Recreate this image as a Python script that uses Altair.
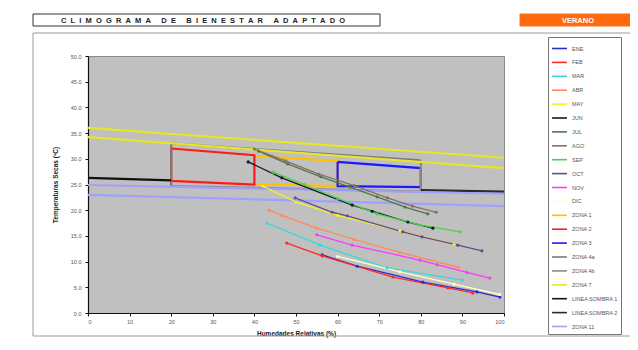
import altair as alt
import pandas as pd

# ---------------- data ----------------
MESES = ["ENE", "FEB", "MAR", "ABR", "MAY", "JUN", "JUL", "AGO", "SEP", "OCT", "NOV", "DIC"]
MES_COLORES = ["#2a2ad0", "#ff2828", "#38d8d8", "#ff8a5a", "#f2f22a", "#15152e",
               "#4a7a4a", "#8e6e62", "#44d444", "#6a4a8a", "#ff38ff", "#ffffc8"]

ENE_H = [56.3, 64.7, 80.5, 93.5, 99.0]
ENE_T = [11.3, 9.1, 6.0, 4.1, 3.1]
FEB_H = [47.8, 56.3, 73.3, 86.5, 92.5]
FEB_T = [13.6, 11.1, 7.0, 4.9, 3.9]
MAR_H = [43.0, 55.8, 71.9, 90.0]
MAR_T = [17.5, 13.2, 8.8, 6.4]
ABR_H = [43.5, 46.6, 55.0, 64.0, 75.0, 89.0]
ABR_T = [20.0, 19.0, 16.5, 14.3, 11.8, 8.9]
MAY_H = [42.0, 50.0, 60.0, 75.0, 88.0]
MAY_T = [24.7, 21.6, 19.0, 16.0, 13.3]
JUN_H = [38.5, 46.6, 63.5, 68.3, 76.9, 82.9]
JUN_T = [29.4, 26.3, 21.0, 19.8, 17.7, 16.5]
JUL_H = [41.0, 48.0, 56.0, 63.0, 69.5, 76.2, 81.7]
JUL_T = [31.5, 29.0, 26.5, 24.5, 22.6, 20.6, 19.3]
AGO_H = [40.0, 47.5, 55.5, 64.0, 72.0, 78.0, 83.7]
AGO_T = [31.9, 29.6, 27.0, 24.8, 22.4, 20.8, 19.6]
SEP_H = [44.5, 52.0, 60.0, 69.5, 80.0, 89.5]
SEP_T = [27.4, 25.0, 22.3, 19.3, 17.1, 15.8]
OCT_H = [49.8, 58.7, 62.3, 75.7, 80.3, 88.9, 94.7]
OCT_T = [22.4, 19.6, 18.9, 15.8, 14.8, 13.2, 12.1]
NOV_H = [55.0, 63.5, 79.8, 83.9, 91.1, 96.6]
NOV_T = [15.2, 13.2, 10.3, 9.4, 7.9, 6.8]
DIC_H = [60.0, 75.0, 88.0, 99.0]
DIC_T = [11.0, 8.0, 5.6, 3.6]

ZONAS = ["ZONA 1", "ZONA 2", "ZONA 3", "ZONA 4a", "ZONA 4b", "ZONA 7",
         "LINEA SOMBRA 1", "LINEA SOMBRA 2", "ZONA 11"]
ZONA_COLORES = ["#ffc000", "#ff1a1a", "#1a1aff", "#7a7a7a", "#8a8a8a", "#e6e62a",
                "#111111", "#2a2a2a", "#a0a0ff"]
ZONA_GROSOR = [2.2, 2.2, 2.2, 1.0, 1.0, 1.2, 1.6, 1.6, 1.2]

# vertices (humedad, temperatura) of each zone, one list per drawn part
ZONA1_H = [40, 60, 60, 40, 40]
ZONA1_T = [30.5, 29.6, 24.7, 25.1, 30.5]
ZONA2_H = [20, 40, 40, 20, 20]
ZONA2_T = [32.0, 30.7, 25.0, 25.7, 32.0]
ZONA3_H = [60, 80, 80, 60, 60]
ZONA3_T = [29.4, 28.2, 24.5, 24.7, 29.4]
ZONA4A_H = [20, 20, 80]
ZONA4A_T = [24.7, 33.0, 29.7]
ZONA4B_H = [20, 80, 80]
ZONA4B_T = [24.7, 23.6, 29.7]
ZONA7_SUP_H = [0, 100]
ZONA7_SUP_T = [36.0, 30.2]
ZONA7_INF_H = [0, 100]
ZONA7_INF_T = [34.2, 28.2]
SOMBRA1_H = [0, 20]
SOMBRA1_T = [26.3, 25.8]
SOMBRA2_H = [80, 100]
SOMBRA2_T = [23.9, 23.6]
ZONA11_SUP_H = [0, 100]
ZONA11_SUP_T = [24.9, 23.2]
ZONA11_INF_H = [0, 100]
ZONA11_INF_T = [23.0, 20.8]

X_TICKS = list(range(0, 101, 10))
Y_TICKS = [0, 5, 10, 15, 20, 25, 30, 35, 40, 45, 50]

TITULO = "CLIMOGRAMA DE BIENESTAR ADAPTADO"
ESTACION = "VERANO"

# ---------------- tables ----------------
mes_series = {
    "ENE": (ENE_H, ENE_T), "FEB": (FEB_H, FEB_T), "MAR": (MAR_H, MAR_T),
    "ABR": (ABR_H, ABR_T), "MAY": (MAY_H, MAY_T), "JUN": (JUN_H, JUN_T),
    "JUL": (JUL_H, JUL_T), "AGO": (AGO_H, AGO_T), "SEP": (SEP_H, SEP_T),
    "OCT": (OCT_H, OCT_T), "NOV": (NOV_H, NOV_T), "DIC": (DIC_H, DIC_T),
}
rows = []
for m in MESES:
    hs, ts = mes_series[m]
    for i, (h, t) in enumerate(zip(hs, ts)):
        rows.append({"serie": m, "h": h, "t": t, "idx": i})
df_mes = pd.DataFrame(rows)

zona_parts = [
    ("ZONA 1", "a", ZONA1_H, ZONA1_T),
    ("ZONA 2", "a", ZONA2_H, ZONA2_T),
    ("ZONA 3", "a", ZONA3_H, ZONA3_T),
    ("ZONA 4a", "a", ZONA4A_H, ZONA4A_T),
    ("ZONA 4b", "a", ZONA4B_H, ZONA4B_T),
    ("ZONA 7", "sup", ZONA7_SUP_H, ZONA7_SUP_T),
    ("ZONA 7", "inf", ZONA7_INF_H, ZONA7_INF_T),
    ("LINEA SOMBRA 1", "a", SOMBRA1_H, SOMBRA1_T),
    ("LINEA SOMBRA 2", "a", SOMBRA2_H, SOMBRA2_T),
    ("ZONA 11", "sup", ZONA11_SUP_H, ZONA11_SUP_T),
    ("ZONA 11", "inf", ZONA11_INF_H, ZONA11_INF_T),
]
rows = []
for name, part, hs, ts in zona_parts:
    for i, (h, t) in enumerate(zip(hs, ts)):
        rows.append({"serie": name, "parte": name + part, "h": h, "t": t, "idx": i})
df_zona = pd.DataFrame(rows)

DOMAIN = MESES + ZONAS
RANGE = MES_COLORES + ZONA_COLORES

# spaced-out heading text (letter spacing emulated with no-break spaces)
NB = "\u00a0"
titulo_esp = (NB * 5).join((NB * 2).join(list(w)) for w in TITULO.split(" "))

# ---------------- encodings ----------------
x_enc = alt.X("h:Q", scale=alt.Scale(domain=[0, 100], nice=False),
              axis=alt.Axis(values=X_TICKS, title="Humedades Relativas (%)", format="d"))
y_enc = alt.Y("t:Q", scale=alt.Scale(domain=[0, 50], nice=False),
              axis=alt.Axis(values=Y_TICKS, title="Temperaturas Secas (ºC)", format=".1f"))

legend = alt.Legend(title=None, orient="none", legendX=460, legendY=-19,
                    symbolType="stroke", symbolSize=220, symbolStrokeWidth=1.6,
                    labelFontSize=5.5, labelColor="#555", labelFont="Liberation Sans",
                    strokeColor="#777", fillColor="white", padding=3,
                    rowPadding=1.9, symbolLimit=40, labelLimit=70, labelOffset=4)
color_enc = alt.Color("serie:N", scale=alt.Scale(domain=DOMAIN, range=RANGE), legend=legend)
color_nl = alt.Color("serie:N", scale=alt.Scale(domain=DOMAIN, range=RANGE))

zone_lines = alt.Chart(df_zona).mark_line(clip=True).encode(
    x=x_enc, y=y_enc, color=color_enc, detail="parte:N", order="idx:Q",
    strokeWidth=alt.StrokeWidth("serie:N", scale=alt.Scale(domain=ZONAS, range=ZONA_GROSOR), legend=None),
)
mes_lines = alt.Chart(df_mes).mark_line(strokeWidth=1.3).encode(
    x=x_enc, y=y_enc, color=color_nl, order="idx:Q",
)
mes_points = alt.Chart(df_mes).mark_point(filled=True, size=10, opacity=1, strokeWidth=0).encode(
    x=x_enc, y=y_enc, color=color_nl,
)

one = pd.DataFrame({"k": [0]})
frame = alt.Chart(one).mark_rect(fillOpacity=0, stroke="#9a9a9a", strokeWidth=1).encode(
    x=alt.value(-55), x2=alt.value(560), y=alt.value(-23), y2=alt.value(280))
head_box = alt.Chart(one).mark_rect(fill="white", stroke="#333", strokeWidth=1).encode(
    x=alt.value(-55), x2=alt.value(292), y=alt.value(-42), y2=alt.value(-30))
head_txt = alt.Chart(one).mark_text(
    text=titulo_esp,
    font="Liberation Sans", fontSize=7.5, fontWeight="bold", color="#222",
    align="center", baseline="middle").encode(x=alt.value(115), y=alt.value(-35.5))
ver_box = alt.Chart(one).mark_rect(fill="#ff6a10", stroke="#ff6a10").encode(
    x=alt.value(432), x2=alt.value(548), y=alt.value(-42), y2=alt.value(-30))
ver_txt = alt.Chart(one).mark_text(
    text=ESTACION, font="Liberation Sans", fontSize=7.5, fontWeight="bold", color="white",
    align="center", baseline="middle").encode(x=alt.value(490), y=alt.value(-35.5))

chart = alt.layer(
    frame, zone_lines, mes_lines, mes_points, head_box, head_txt, ver_box, ver_txt
).properties(
    width=416, height=257,
    autosize=alt.AutoSizeParams(type="none"),
    padding={"left": 80, "top": 48, "right": 126, "bottom": 29},
).configure_view(
    fill="#c0c0c0", stroke="#8a8a8a"
).configure_axis(
    labelFontSize=5.5, labelColor="#555", labelFont="Liberation Sans",
    titleFontSize=6.5, titleFont="Liberation Sans", titleFontWeight="bold", titleColor="#222",
    domainColor="#111", domainWidth=1.2, tickColor="#111", tickSize=3, grid=False,
).configure_axisX(
    titlePadding=6, labelPadding=3,
).configure_axisY(
    titlePadding=12, labelPadding=4,
)

chart.save("out.html", embed_options={"renderer": "svg", "actions": False})
